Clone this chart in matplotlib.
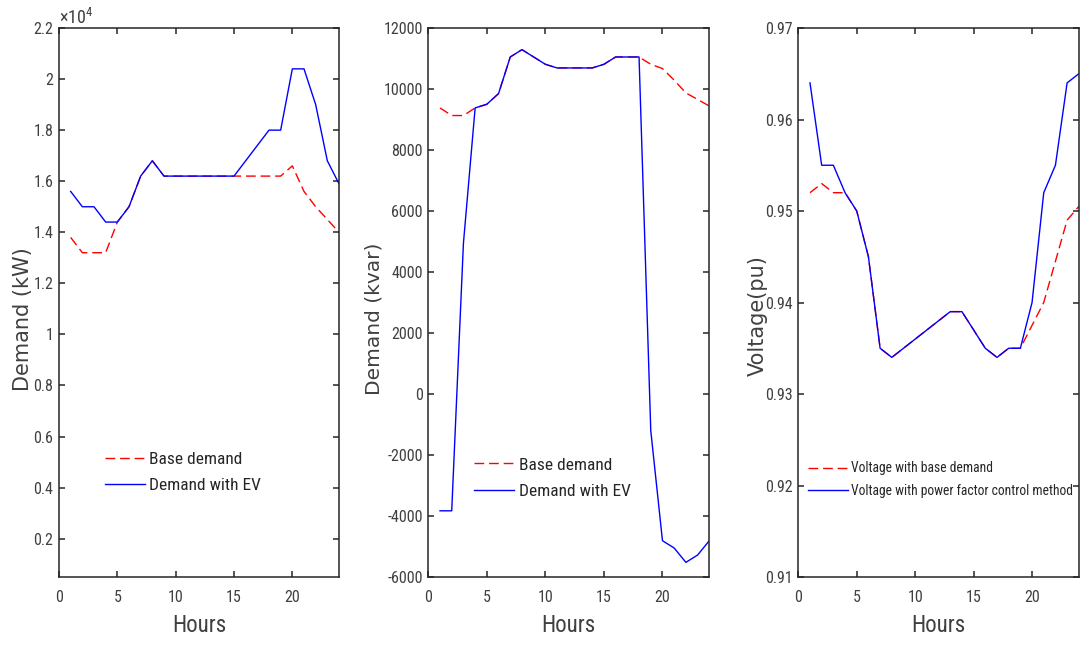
import matplotlib
matplotlib.use("Agg")
import matplotlib.pyplot as plt
from matplotlib import font_manager as fm
from matplotlib.ticker import FuncFormatter

plt.rcParams['axes.unicode_minus'] = False
plt.rcParams['mathtext.default'] = 'regular'

TXT = '#404040'

hours = [1, 2, 3, 4, 5, 6, 7, 8, 9, 10, 11, 12, 13, 14, 15, 16, 17, 18, 19, 20, 21, 22, 23, 24]

# active power demand (kW)
kw_base = [13800, 13200, 13200, 13200, 14400, 15000, 16200, 16800, 16200, 16200, 16200, 16200,
           16200, 16200, 16200, 16200, 16200, 16200, 16200, 16600, 15600, 15000, 14500, 14000]
kw_ev = [15600, 15000, 15000, 14400, 14400, 15000, 16200, 16800, 16200, 16200, 16200, 16200,
         16200, 16200, 16200, 16800, 17400, 18000, 18000, 20400, 20400, 19000, 16800, 15900]

# reactive power demand (kvar)
kvar_base = [9380, 9130, 9130, 9380, 9500, 9850, 11050, 11290, 11050, 10810, 10690, 10690,
             10690, 10690, 10810, 11050, 11050, 11050, 10810, 10670, 10290, 9870, 9660, 9440]
kvar_ev = [-3830, -3830, 4940, 9380, 9500, 9850, 11050, 11290, 11050, 10810, 10690, 10690,
           10690, 10690, 10810, 11050, 11050, 11050, -1200, -4810, -5050, -5520, -5280, -4810]

# voltage (pu)
volt_base = [0.952, 0.953, 0.952, 0.952, 0.950, 0.945, 0.935, 0.934, 0.935, 0.936, 0.937, 0.938,
             0.939, 0.939, 0.937, 0.935, 0.934, 0.935, 0.935, 0.9375, 0.940, 0.9445, 0.949, 0.9505]
volt_pf = [0.964, 0.955, 0.955, 0.952, 0.950, 0.945, 0.935, 0.934, 0.935, 0.936, 0.937, 0.938,
           0.939, 0.939, 0.937, 0.935, 0.934, 0.935, 0.935, 0.940, 0.952, 0.955, 0.964, 0.965]

xticks = [0, 5, 10, 15, 20]
kw_ticks = [2000, 4000, 6000, 8000, 10000, 12000, 14000, 16000, 18000, 20000, 22000]
kvar_ticks = [-6000, -4000, -2000, 0, 2000, 4000, 6000, 8000, 10000, 12000]
volt_ticks = [0.91, 0.92, 0.93, 0.94, 0.95, 0.96, 0.97]


# look for a narrow sans (the original is a condensed Helvetica look)
def find_narrow():
    fonts = [f for f in fm.fontManager.ttflist
             if f.style == 'normal' and f.weight in (400, 'normal', 'regular', 'book')]
    for want in ['Liberation Sans Narrow', 'Arial Narrow', 'Roboto Condensed',
                 'Open Sans Condensed', 'Noto Sans Condensed']:
        for f in fonts:
            if f.name == want:
                return f.fname, 1.0
    for fam, k in [('Liberation Sans', 1.0), ('Noto Sans', 0.92), ('Open Sans', 0.9),
                   ('Roboto', 0.95), ('DejaVu Sans', 0.88)]:
        for f in fonts:
            if f.name == fam and f.stretch in ('condensed', 'semi-condensed', 'extra-condensed'):
                return f.fname, k
    for f in fonts:
        if f.name == 'Liberation Sans' and f.stretch == 'normal':
            return f.fname, 0.84
    return None, 0.84


NARROW_FILE, K = find_narrow()


def nfont(size):
    if NARROW_FILE:
        return fm.FontProperties(fname=NARROW_FILE, size=size * K)
    return fm.FontProperties(family='DejaVu Sans', size=size * K)


W, H = 1084, 645
fig = plt.figure(figsize=(W / 100, H / 100), dpi=100)


def make_axes(left_px, width_px):
    ax = fig.add_axes([left_px / W, (H - 577) / H, width_px / W, 549 / H])
    for s in ax.spines.values():
        s.set_linewidth(1.1)
        s.set_color('#262626')
    ax.tick_params(direction='in', top=True, right=True, length=4, width=1.1,
                   color='#262626', labelcolor=TXT)
    ax.tick_params(axis='x', pad=9)
    ax.tick_params(axis='y', pad=4)
    ax.set_xlim(0, 24)
    ax.set_xticks(xticks)
    ax.set_xlabel('Hours', fontproperties=nfont(16.5), color=TXT, labelpad=7)
    return ax


def draw(ax, base, other, labels, leg_x, leg_y, leg_size, hlen, spacing):
    l1, = ax.plot(hours, base, color='#ff0000', lw=1.0, dashes=(7, 3.5))
    l2, = ax.plot(hours, other, color='#0000ff', lw=1.0)
    leg = ax.legend([l1, l2], labels, loc='center left', bbox_to_anchor=(leg_x, leg_y),
                    frameon=False, borderpad=0, borderaxespad=0, handlelength=hlen,
                    handletextpad=0.25, labelspacing=spacing, prop=nfont(leg_size))
    for t in leg.get_texts():
        t.set_color('#262626')


# panel 1
ax1 = make_axes(59, 280)
draw(ax1, kw_base, kw_ev, ['Base demand', 'Demand with EV'], 0.164, 0.19, 12.5, 2.3, 0.65)
ax1.set_ylim(500, 22000)
ax1.set_yticks(kw_ticks)
ax1.yaxis.set_major_formatter(FuncFormatter(lambda v, p: '%g' % (v / 1e4)))
ax1.text(0.0, 1.0, r'$\times10^{4}$', transform=ax1.transAxes, ha='left', va='bottom',
         fontproperties=nfont(13), color=TXT)
ax1.set_ylabel('Demand (kW)', fontsize=15, color=TXT)
ax1.yaxis.set_label_coords(-0.093, 0.47)

# panel 2
ax2 = make_axes(428.3, 281)
draw(ax2, kvar_base, kvar_ev, ['Base demand', 'Demand with EV'], 0.164, 0.18, 12.5, 2.3, 0.65)
ax2.set_ylim(-6000, 12000)
ax2.set_yticks(kvar_ticks)
ax2.yaxis.set_major_formatter(FuncFormatter(lambda v, p: '%d' % v))
ax2.set_ylabel('Demand (kvar)', fontsize=14.5, color=TXT)
ax2.yaxis.set_label_coords(-0.16, 0.47)

# panel 3
ax3 = make_axes(798.3, 280.5)
draw(ax3, volt_base, volt_pf,
     ['Voltage with base demand', 'Voltage with power factor control method'],
     0.036, 0.177, 9.8, 2.9, 0.65)
ax3.set_ylim(0.91, 0.97)
ax3.set_yticks(volt_ticks)
ax3.yaxis.set_major_formatter(FuncFormatter(lambda v, p: '%.2f' % v))
ax3.set_ylabel('Voltage(pu)', fontsize=15, color=TXT)
ax3.yaxis.set_label_coords(-0.11, 0.477)

for ax in (ax1, ax2, ax3):
    for lab in ax.get_xticklabels() + ax.get_yticklabels():
        lab.set_fontproperties(nfont(11.5))

fig.savefig('out.png', dpi=100)
